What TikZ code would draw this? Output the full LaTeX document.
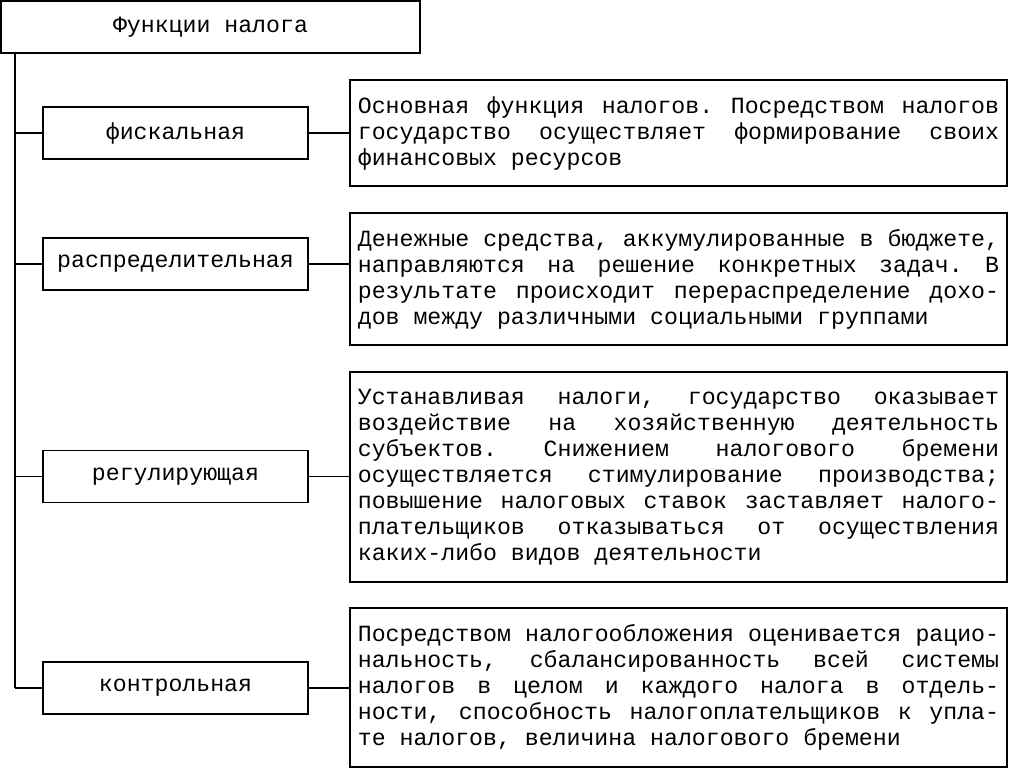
\documentclass[tikz,border=0pt]{standalone}
\usepackage{fontspec}
\setmainfont{Liberation Mono}
\frenchspacing

%lignes justifiées et dernière ligne
\newcommand{\lignej}[1]{\hbox to\linewidth{\spaceskip=0.6001em plus 1fil\relax#1}}
\newcommand{\lignef}[1]{\hbox{\spaceskip=0.6001em\relax#1}}

\tikzset{
    boite/.style={draw, line width=1.3pt, rectangle, inner sep=0pt, font=\fontsize{17.4}{19.5}\selectfont},
    fonction/.style={boite, minimum width=198.75pt, minimum height=39pt},
    texte/.style={boite, minimum width=492.75pt, text width=481pt, inner xsep=5.875pt, inner ysep=2pt},
    lien/.style={line width=1.3pt}
}

\begin{document}
\begin{tikzpicture}[x=0.75pt, y=-0.75pt]

\fill[white] (0,0) rectangle (1009,768);
\useasboundingbox (0,0) rectangle (1009,768);

%titre

\node[boite, minimum width=314.25pt, minimum height=39pt] (titre) at (210.5,27) {\lignef{Функции налога}};
\coordinate (tronc) at (15,0);

%fonctions

\node[fonction] (fisc) at (175.5,133) {фискальная};
\node[fonction] (distr) at (175.5,264) {распределительная};
\node[fonction] (regul) at (175.5,476.5) {регулирующая};
\node[fonction] (ctrl) at (175.5,688) {контрольная};

%descriptions

\node[texte, minimum height=79.5pt] (fiscd) at (678.5,133) {
    \lignej{Основная функция налогов. Посредством налогов}
    \lignej{государство осуществляет формирование своих}
    \lignef{финансовых ресурсов}
};
\node[texte, minimum height=99pt] (distrd) at (678.5,279) {
    \lignej{Денежные средства, аккумулированные в бюджете,}
    \lignej{направляются на решение конкретных задач. В}
    \lignej{результате происходит перераспределение дохо-}
    \lignef{дов между различными социальными группами}
};
\node[texte, minimum height=157.5pt] (reguld) at (678.5,477) {
    \lignej{Устанавливая налоги, государство оказывает}
    \lignej{воздействие на хозяйственную деятельность}
    \lignej{субъектов. Снижением налогового бремени}
    \lignej{осуществляется стимулирование производства;}
    \lignej{повышение налоговых ставок заставляет налого-}
    \lignej{плательщиков отказываться от осуществления}
    \lignef{каких-либо видов деятельности}
};
\node[texte, minimum height=119.25pt] (ctrld) at (678.5,687.5) {
    \lignej{Посредством налогообложения оценивается рацио-}
    \lignej{нальность, сбалансированность всей системы}
    \lignej{налогов в целом и каждого налога в отдель-}
    \lignej{ности, способность налогоплательщиков к упла-}
    \lignef{те налогов, величина налогового бремени}
};

%liaisons

\draw[lien] (titre.south -| tronc) -- (ctrl.west -| tronc);
\foreach \f/\d in {fisc/fiscd, distr/distrd, regul/reguld, ctrl/ctrld}{
    \draw[lien] (\f.west -| tronc) -- (\f.west);
    \draw[lien] (\f.east) -- (\f.east -| \d.west);
}
\end{tikzpicture}
\end{document}
